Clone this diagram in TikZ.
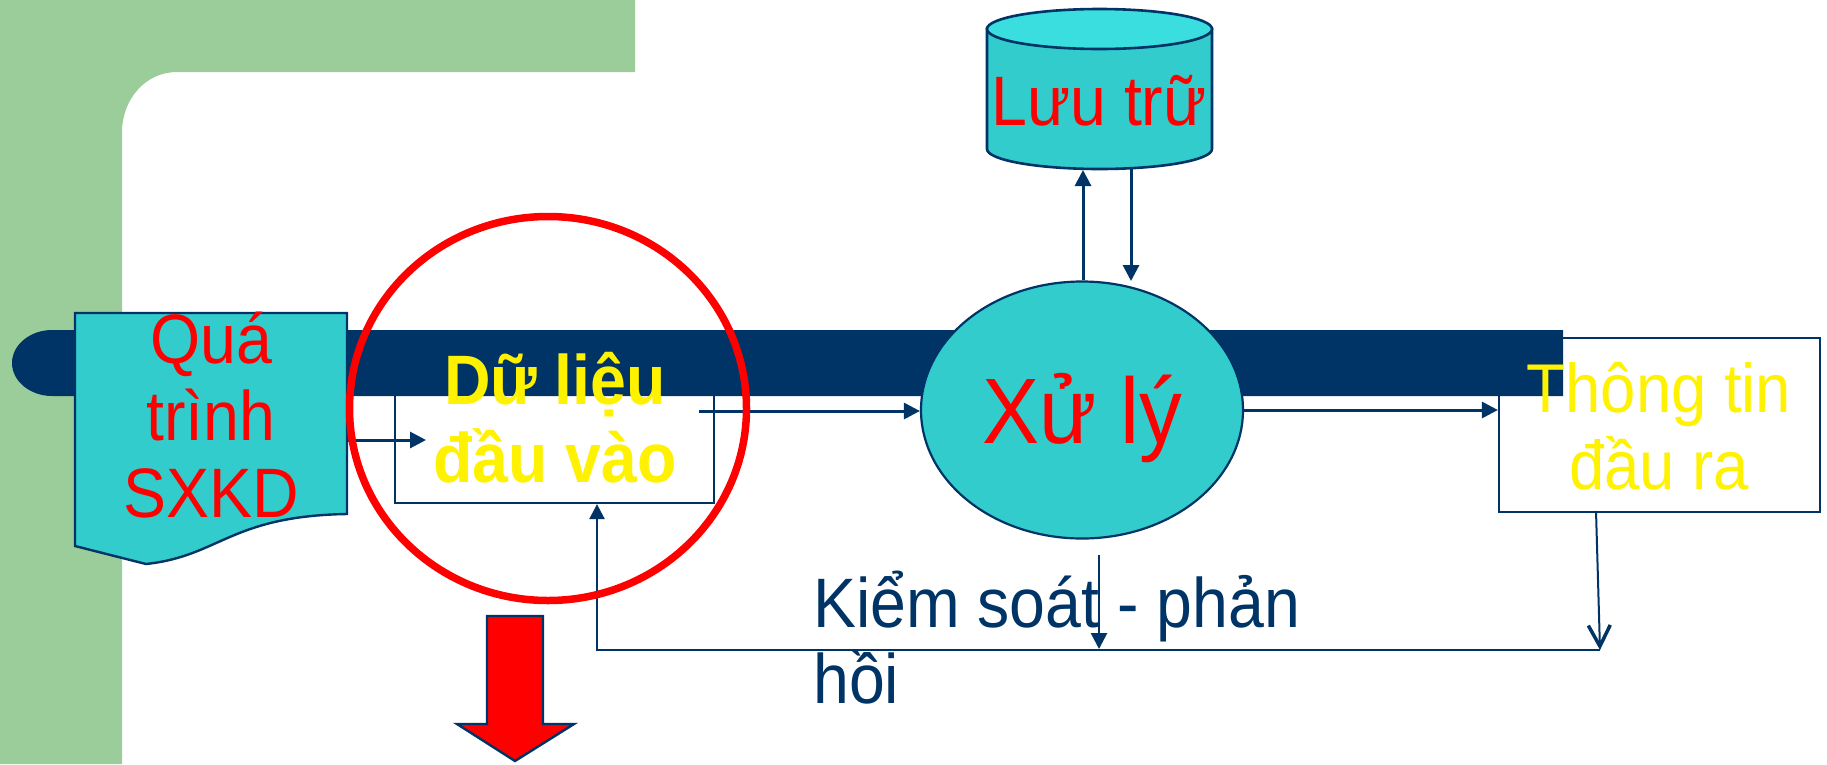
\documentclass[tikz,border=0pt]{standalone}
\usepackage{fontspec}
\setmainfont{Liberation Sans}[FakeStretch=0.92]
\usetikzlibrary{arrows.meta,shapes.geometric}
\definecolor{navy}{RGB}{0,51,102}
\definecolor{slidegreen}{RGB}{155,205,154}
\definecolor{cylbody}{RGB}{51,204,204}
\definecolor{cyltop}{RGB}{58,222,222}
\newcommand\setfs[1]{\fontsize{#1}{#1}\selectfont}
\begin{document}
\begin{tikzpicture}[x=1pt,y=-1pt,
  txt/.style={inner sep=0pt, anchor=base},
  boxnode/.style={draw=navy, line width=2.2pt, fill=white, inner sep=0pt},
  conn/.style={draw=navy, line width=3pt, -{Triangle[length=16pt,width=16pt]}},
  fbline/.style={draw=navy, line width=2.4pt},
  shapeline/.style={draw=navy, line width=2.4pt}]
\useasboundingbox (0,0) rectangle (1827,764);

% slide background: green L-shaped frame with a rounded inner corner
\fill[slidegreen] (0,0) -- (635,0) -- (635,72) -- (177,72)
  .. controls (145,72) and (122,100) .. (122,132) -- (122,764) -- (0,764) -- cycle;

% input and output boxes (partly covered by the bar)
\node[boxnode, minimum width=319pt, minimum height=158pt] (din) at (554.5,424) {};
\node[boxnode, minimum width=321pt, minimum height=174pt] (dout) at (1659.5,425) {};

% dark horizontal bar with rounded left end
\fill[navy] (52,330) .. controls (30,330) and (12,345) .. (12,363)
  .. controls (12,381) and (30,396) .. (52,396) -- (1563,396) -- (1563,330) -- cycle;

% business process: document shape
\filldraw[fill=cylbody, shapeline] (75,313) -- (347,313) -- (347,514)
  .. controls (230,516) and (220,556) .. (146,564) -- (75,546) -- cycle;

% processing ellipse
\node[ellipse, draw=navy, line width=2.2pt, fill=cylbody, inner sep=0pt,
  minimum width=322pt, minimum height=257pt] (proc) at (1082,410) {};

% storage cylinder
\filldraw[fill=cylbody, draw=navy, line width=2.6pt] (987,29) -- (987,149)
  arc[start angle=180, end angle=0, x radius=112.5, y radius=20] -- (1212,29) -- cycle;
\filldraw[fill=cyltop, draw=navy, line width=2.6pt] (1099.5,29) ellipse [x radius=112.5, y radius=20];

% connector end points
\coordinate (srcout) at (347,440);
\coordinate (dinin) at (426,440);
\coordinate (dinout) at (699,411);
\coordinate (storeup) at (1083,170);
\coordinate (storedn) at (1131,169);
\coordinate (procdn) at (1131,281);
\coordinate (ctrltop) at (1099,555);
\coordinate (ctrlbot) at (1099,649);
\coordinate (fbR) at (1600,650);
\coordinate (fbL) at (597,650);
\coordinate (outdn) at (1596,511);

% flow connectors
\draw[conn] (srcout) -- (dinin);
\draw[conn] (dinout) -- (dinout -| proc.west);
\draw[conn] (proc.east) -- (proc.east -| dout.west);
\draw[conn] (proc.north -| storeup) -- (storeup);
\draw[conn] (storedn) -- (procdn);
\draw[conn, line width=2.6pt] (ctrltop) -- (ctrlbot);

% feedback loop
\draw[fbline, -{Triangle[length=15pt,width=15pt]}] (fbR) -- (fbL) -- (fbL |- din.south);
\draw[navy, line width=2pt, -{Straight Barb[length=21pt,width=22pt,line width=3.5pt]}] (outdn) -- (fbR);

% highlight ring
\draw[red, line width=7.5pt] (548,408.5) ellipse [x radius=198.5, y radius=192];

% big red arrow
\filldraw[fill=red, shapeline] (487,616) -- (543,616) -- (543,724) -- (574,724)
  -- (515,761) -- (457,724) -- (487,724) -- cycle;

% labels
\node[txt, text=red] (q1) at (211,363) {\setfs{70}Quá};
\node[txt, text=red] (q2) at (211,440) {\setfs{70}trình};
\node[txt, text=red] (q3) at (211,517) {\setfs{70}SXKD};
\node[txt, text=yellow, font=\bfseries] (d1) at (555,404) {\setfs{70}Dữ liệu};
\node[txt, text=yellow, font=\bfseries] (d2) at (555,482) {\setfs{70}đầu vào};
\node[txt, text=red] (xl) at (1082,443) {\setfs{93}Xử lý};
\node[txt, text=red] (lt) at (1099,125) {\setfs{70}Lưu trữ};
\node[txt, text=yellow] (t1) at (1659,412) {\setfs{69}Thông tin};
\node[txt, text=yellow] (t2) at (1659,489) {\setfs{69}đầu ra};
\node[txt, text=navy, anchor=base west] (k1) at (813,627) {\setfs{70}Kiểm soát - phản};
\node[txt, text=navy, anchor=base west] (k2) at (813,703) {\setfs{70}hồi};
\end{tikzpicture}
\end{document}
